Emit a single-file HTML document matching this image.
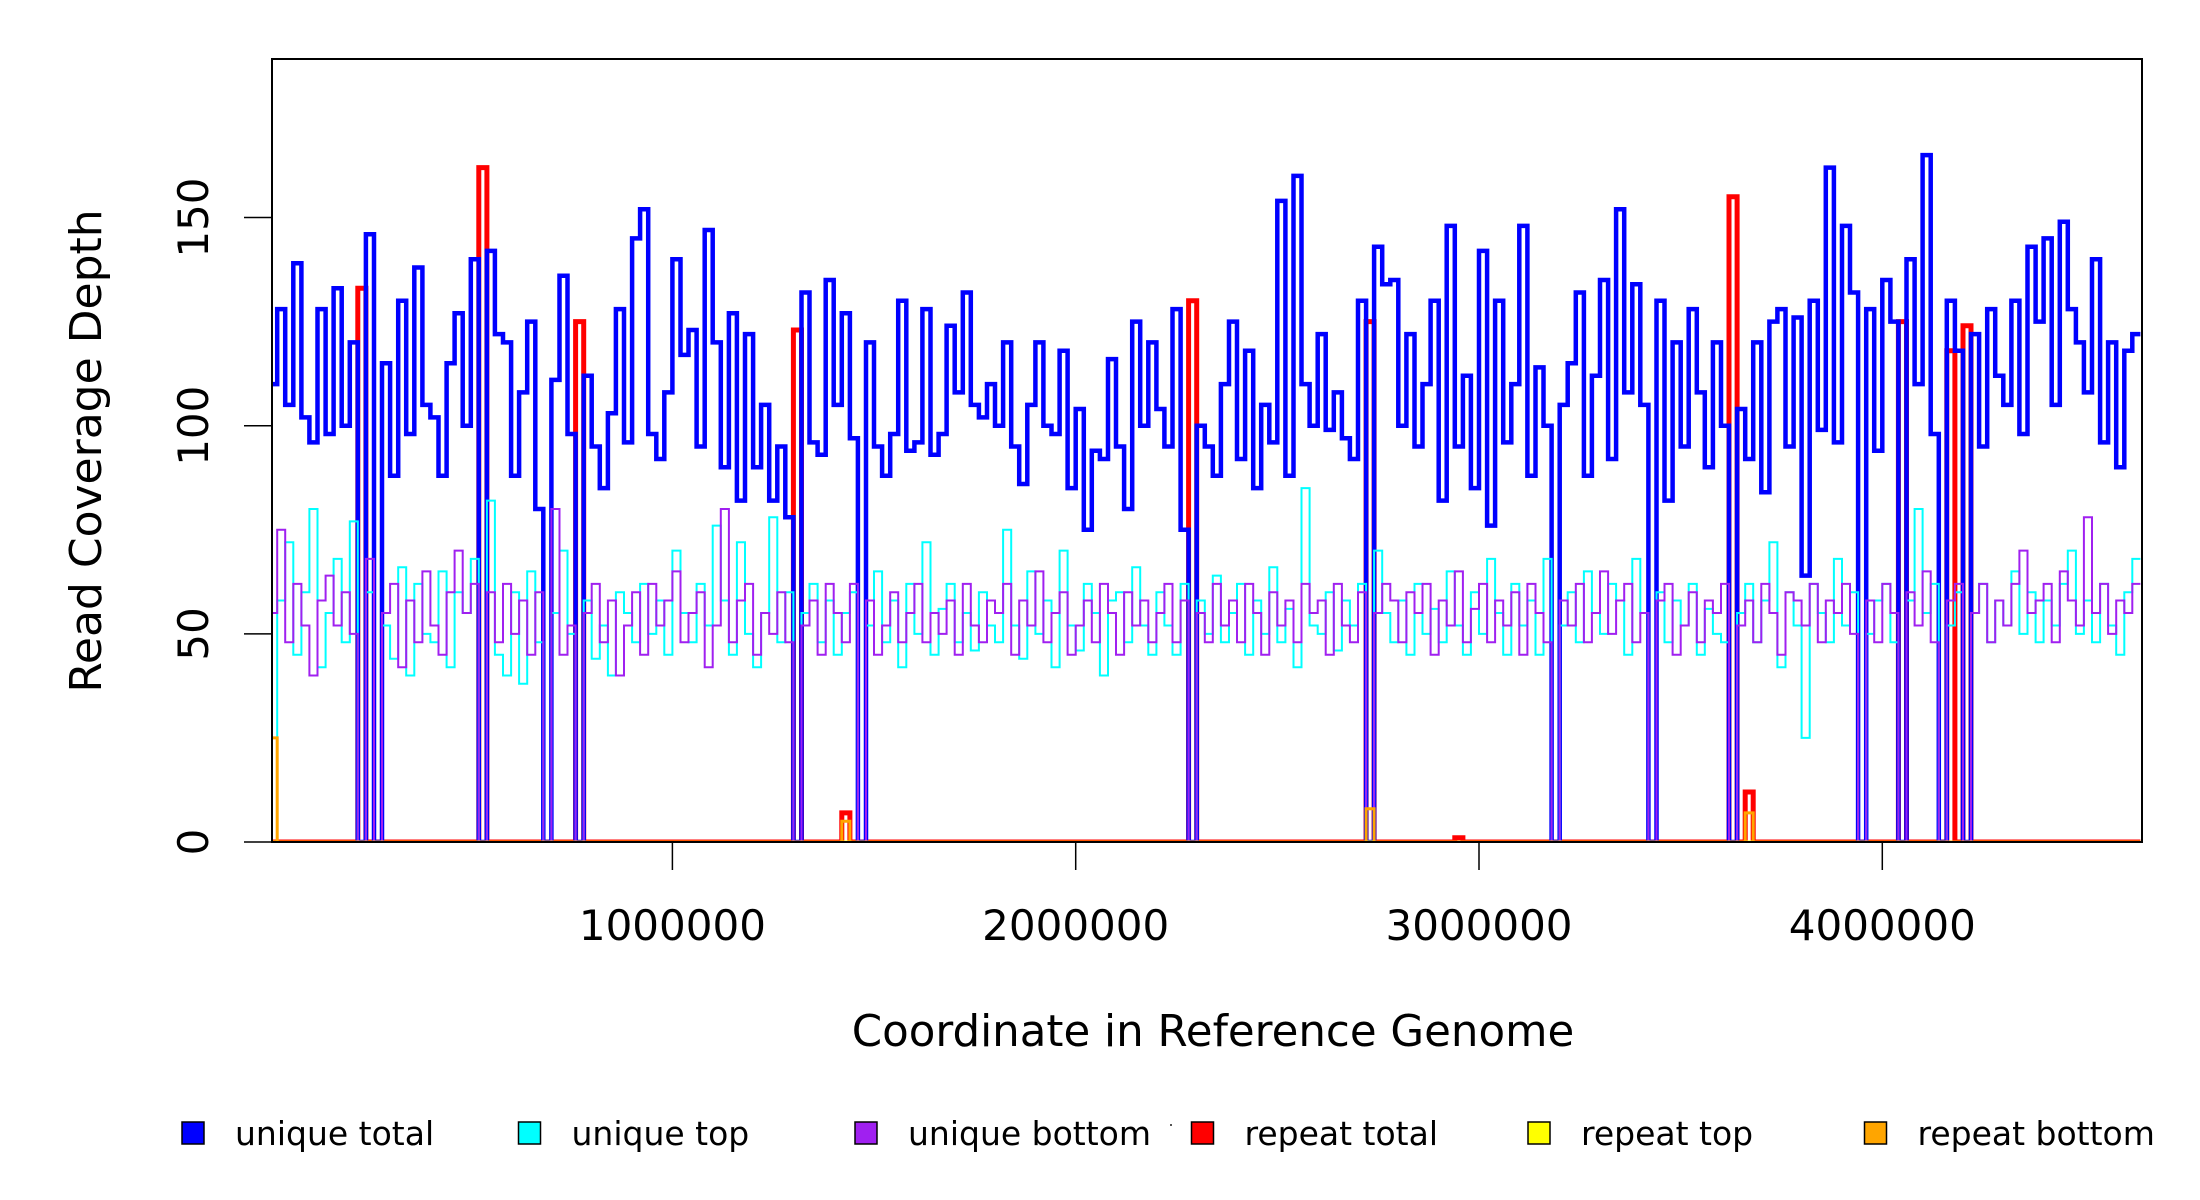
<!DOCTYPE html>
<html><head><meta charset="utf-8"><style>
html,body{margin:0;padding:0;background:#fff;}
svg{display:block;font-family:"DejaVu Sans","Liberation Sans",sans-serif;}
</style></head><body>
<svg id="chart" width="2200" height="1200" viewBox="0 0 2200 1200" xmlns="http://www.w3.org/2000/svg">
<defs><clipPath id="pc"><rect x="272" y="59" width="1870" height="783"/></clipPath></defs>
<g id="marks" clip-path="url(#pc)"></g>
<rect x="272" y="59" width="1870" height="783" fill="none" stroke="#000" stroke-width="2"/>
<g id="axes"></g>
<text x="101" y="451" font-size="44" text-anchor="middle" transform="rotate(-90 101 451)">Read Coverage Depth</text>
<text x="1213" y="1046" font-size="43.5" text-anchor="middle">Coordinate in Reference Genome</text>
<g id="legend" font-size="33"></g>
<rect x="1170" y="1124" width="2" height="2" fill="#555"/>
</svg>
<script>
const binSize = 20000;
const blueVals = [110,128,105,139,102,96,128,98,133,100,
120,0,146,0,115,88,130,98,138,105,
102,88,115,127,100,140,0,142,122,120,
88,108,125,80,0,111,136,98,0,112,
95,85,103,128,96,145,152,98,92,108,
140,117,123,95,147,120,90,127,82,122,
90,105,82,95,78,0,132,96,93,135,
105,127,97,0,120,95,88,98,130,94,
96,128,93,98,124,108,132,105,102,110,
100,120,95,86,105,120,100,98,118,85,
104,75,94,92,116,95,80,125,100,120,
104,95,128,75,0,100,95,88,110,125,
92,118,85,105,96,154,88,160,110,100,
122,99,108,97,92,130,0,143,134,135,
100,122,95,110,130,82,148,95,112,85,
142,76,130,96,110,148,88,114,100,0,
105,115,132,88,112,135,92,152,108,134,
105,0,130,82,120,95,128,108,90,120,
100,0,104,92,120,84,125,128,95,126,
64,130,99,162,96,148,132,0,128,94,
135,125,0,140,110,165,98,0,130,118,
0,122,95,128,112,105,130,98,143,125,
145,105,149,128,120,108,140,96,120,90,
118,122];
const cyanVals = [25,58,72,45,60,80,42,55,68,48,
77,0,60,0,52,44,66,40,62,50,
48,65,42,60,55,68,0,82,45,40,
60,38,65,48,0,55,70,50,0,58,
44,52,40,60,55,48,62,50,58,45,
70,55,48,62,52,76,58,45,72,50,
42,55,78,48,60,0,55,62,48,58,
45,55,60,0,52,65,48,58,42,62,
50,72,45,56,62,48,55,46,60,52,
48,75,52,44,65,50,58,42,70,52,
46,62,55,40,58,60,48,66,52,45,
60,52,45,62,0,58,50,64,48,55,
62,45,58,50,66,48,56,42,85,52,
50,60,46,58,52,62,0,70,55,48,
58,45,62,50,56,48,65,52,45,60,
50,68,55,45,62,52,58,45,68,0,
52,60,48,65,55,50,62,58,45,68,
55,0,60,48,58,52,62,45,56,50,
48,0,55,62,48,58,72,42,60,52,
25,62,55,48,68,52,60,0,50,58,
62,48,0,58,80,55,62,0,52,60,
0,55,62,48,58,52,65,50,60,48,
58,52,62,70,50,58,48,62,52,45,
60,68];
const purpleVals = [55,75,48,62,52,40,58,64,52,60,
50,0,68,0,55,62,42,58,48,65,
52,45,60,70,55,62,0,60,48,62,
50,58,45,60,0,80,45,52,0,55,
62,48,58,40,52,60,45,62,52,58,
65,48,55,60,42,52,80,48,58,62,
45,55,50,60,48,0,52,58,45,62,
55,48,62,0,58,45,52,60,48,55,
62,48,55,50,58,45,62,52,48,58,
55,62,45,58,52,65,48,55,60,45,
52,58,48,62,55,45,60,52,58,48,
55,62,48,58,0,55,48,62,52,58,
48,62,55,45,60,52,58,48,62,55,
58,45,62,52,48,60,0,55,62,58,
48,60,55,62,45,58,52,65,48,56,
62,48,58,52,60,45,62,55,48,0,
58,52,62,48,55,65,50,58,62,48,
55,0,58,62,45,52,60,48,58,55,
62,0,52,58,48,62,55,45,60,58,
52,62,48,58,55,62,50,0,58,48,
62,55,0,60,52,65,48,0,58,62,
0,55,62,48,58,52,62,70,55,58,
62,48,65,58,52,78,55,62,50,58,
55,62];
const repeatBins = [11,26,38,65,71,114,136,147,181,183,202,208,210];
const repeatTotalVals = [133,162,125,123,7,130,125,1,155,12,125,118,124];
const orangeBins = [0,71,136,183];
const orangeVals = [25,5,8,7];
const xTicks = [1000000,2000000,3000000,4000000];
const xTickLabels = ["1000000","2000000","3000000","4000000"];
const yTicks = [0,50,100,150];
const yTickLabels = ["0","50","100","150"];
const legendLabels = ["unique total","unique top","unique bottom","repeat total","repeat top","repeat bottom"];
const legendColors = ["#0000ff","#00ffff","#a020f0","#ff0000","#ffff00","#ffa500"];

const NS = "http://www.w3.org/2000/svg";
const X0 = 269.1, PXM = 403.3 / 1e6;
const Y0 = 842, PYU = 4.163;
const xs = g => X0 + g * PXM;
const ys = v => Y0 - v * PYU;
const nBins = blueVals.length;
function sparse(bins, vals){ const a = new Array(nBins).fill(0); bins.forEach((b,i)=>a[b]=vals[i]); return a; }
function stepPath(vals){
  let d = "";
  vals.forEach((v,i)=>{
    const x1 = xs(i*binSize), x2 = xs((i+1)*binSize), y = ys(v);
    d += (i===0 ? "M"+x1.toFixed(1)+","+y.toFixed(1) : "V"+y.toFixed(1)) + "H"+x2.toFixed(1);
  });
  return d;
}
const marks = document.getElementById("marks");
function addLine(vals, color, w, name){
  const p = document.createElementNS(NS,"path");
  p.setAttribute("d", stepPath(vals));
  p.setAttribute("fill","none");
  p.setAttribute("stroke",color);
  p.setAttribute("stroke-width",w);
  
  
  marks.appendChild(p);
}
addLine(sparse(repeatBins, repeatTotalVals), "#ff0000", 5, "repeat-total-line");
addLine(blueVals, "#0000ff", 4.5, "unique-total-line");
addLine(cyanVals, "#00ffff", 2, "unique-top-line");
addLine(purpleVals, "#a020f0", 2, "unique-bottom-line");
addLine(new Array(nBins).fill(0), "#ffff00", 3, "repeat-top-line");
addLine(sparse(orangeBins, orangeVals), "#ffa500", 3, "repeat-bottom-line");

const axes = document.getElementById("axes");
xTicks.forEach((t,i)=>{
  const x = xs(t);
  const l = document.createElementNS(NS,"line");
  l.setAttribute("x1",x); l.setAttribute("x2",x); l.setAttribute("y1",842); l.setAttribute("y2",870);
  l.setAttribute("stroke","#000"); l.setAttribute("stroke-width",1.5);
  
  
  axes.appendChild(l);
  const tx = document.createElementNS(NS,"text");
  tx.setAttribute("x",x); tx.setAttribute("y",940); tx.setAttribute("font-size",42); tx.setAttribute("text-anchor","middle");
  tx.textContent = xTickLabels[i];
  
  
  axes.appendChild(tx);
});
yTicks.forEach((t,i)=>{
  const y = ys(t);
  const l = document.createElementNS(NS,"line");
  l.setAttribute("x1",244); l.setAttribute("x2",272); l.setAttribute("y1",y); l.setAttribute("y2",y);
  l.setAttribute("stroke","#000"); l.setAttribute("stroke-width",1.5);
  
  
  axes.appendChild(l);
  const tx = document.createElementNS(NS,"text");
  tx.setAttribute("x",208); tx.setAttribute("y",y); tx.setAttribute("font-size",42); tx.setAttribute("text-anchor","middle");
  tx.setAttribute("transform","rotate(-90 208 "+y+")");
  tx.textContent = yTickLabels[i];
  
  
  axes.appendChild(tx);
});
const legend = document.getElementById("legend");
legendLabels.forEach((lab,i)=>{
  const cx = 193 + i*336.5;
  const g = document.createElementNS(NS,"g");
  
  
  const r = document.createElementNS(NS,"rect");
  r.setAttribute("x",cx-11); r.setAttribute("y",1122); r.setAttribute("width",22); r.setAttribute("height",22);
  r.setAttribute("fill",legendColors[i]); r.setAttribute("stroke","#000"); r.setAttribute("stroke-width",1.5);
  
  
  g.appendChild(r);
  const t = document.createElementNS(NS,"text");
  t.setAttribute("x",cx+42); t.setAttribute("y",1145);
  t.textContent = lab;
  
  
  g.appendChild(t);
  legend.appendChild(g);
});
</script>
</body></html>
